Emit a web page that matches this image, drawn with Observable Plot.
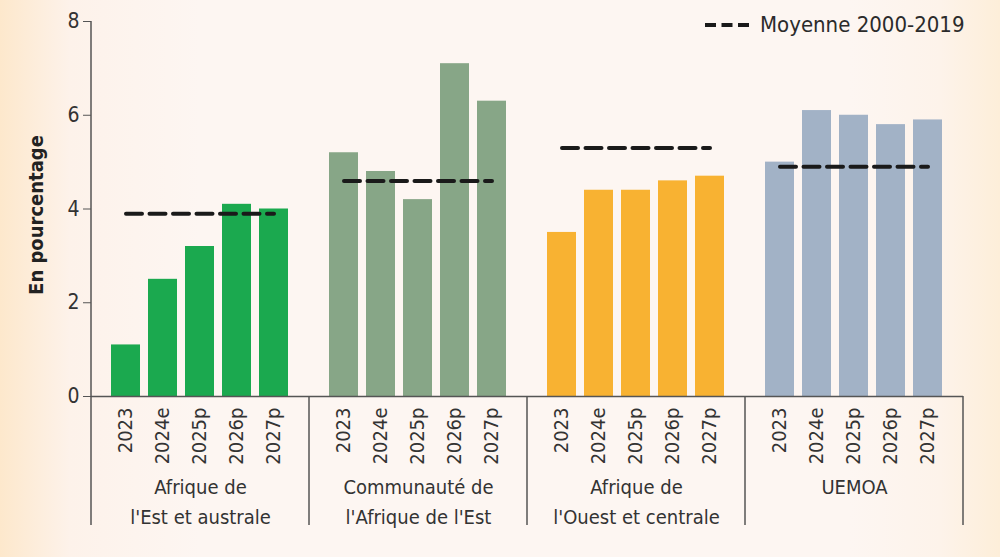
<!DOCTYPE html>
<html>
<head>
<meta charset="utf-8">
<script src="https://cdn.jsdelivr.net/npm/d3@7"></script>
<script src="https://cdn.jsdelivr.net/npm/@observablehq/plot@0.6"></script>
<style>
  html, body { margin: 0; padding: 0; }
  body {
    width: 1000px; height: 557px; overflow: hidden;
    background: linear-gradient(to right, #fde8cc 0%, #fdf2ea 7%, #fdf6f2 20%, #fdf6f2 85%, #fdf3ea 94%, #fdeed9 100%);
    font-family: "Liberation Sans Narrow", "DejaVu Sans Condensed", sans-serif;
    color: #333;
  }
  #wrap { position: relative; width: 1000px; height: 557px; }
  #legend {
    position: absolute; left: 704px; top: 11px;
    display: flex; align-items: center; gap: 10px;
    font-size: 22px; line-height: 28px; color: #2b2b2b;
  }
  #legend svg { display: block; }
  #chart svg { display: block; background: transparent; }
</style>
</head>
<body>
<div id="wrap">
  <div id="chart"></div>
  <div id="legend">
    <svg width="46" height="10"><line x1="1" y1="5" x2="45" y2="5" stroke="#1a1a1a" stroke-width="4" stroke-dasharray="11,5.5"/></svg>
    <span>Moyenne 2000-2019</span>
  </div>
</div>
<script>
// ---- data ----
const groups = ["EA", "EAC", "WCA", "UEMOA"];
const groupLabels = [
  "Afrique de\nl'Est et australe",
  "Communauté de\nl'Afrique de l'Est",
  "Afrique de\nl'Ouest et centrale",
  "UEMOA"
];
const years = ["2023", "2024e", "2025p", "2026p", "2027p"];
const valuesEA    = [1.1, 2.5, 3.2, 4.1, 4.0];
const valuesEAC   = [5.2, 4.8, 4.2, 7.1, 6.3];
const valuesWCA   = [3.5, 4.4, 4.4, 4.6, 4.7];
const valuesUEMOA = [5.0, 6.1, 6.0, 5.8, 5.9];
const averages    = [3.9, 4.6, 5.3, 4.9];
const groupColors = ["#1ba94f", "#87a687", "#f8b232", "#a2b2c6"];
const yTicks = [0, 2, 4, 6, 8];
const yLabel = "En pourcentage";

// ---- tables ----
const series = [valuesEA, valuesEAC, valuesWCA, valuesUEMOA];
const bars = groups.flatMap((g, i) => years.map((yr, j) => ({group: g, year: yr, value: series[i][j]})));
const means = groups.flatMap((g, i) => [
  {group: g, year: years[0], value: averages[i]},
  {group: g, year: years[years.length - 1], value: averages[i]}
]);
const labelRows = groups.map((g, i) => ({group: g, label: groupLabels[i]}));

const font = "'Liberation Sans Narrow', 'DejaVu Sans Condensed', sans-serif";

const plot = Plot.plot({
  width: 1000,
  height: 557,
  marginLeft: 90,
  marginRight: 36,
  marginTop: 21,
  marginBottom: 161,
  style: {fontFamily: font, color: "#333", background: "transparent", overflow: "visible"},
  fx: {domain: groups, padding: 0, axis: null},
  x: {domain: years, paddingInner: 0.21, paddingOuter: 0.48, axis: null},
  y: {domain: [0, 8], axis: null},
  color: {domain: groups, range: groupColors},
  marks: [
    Plot.barY(bars, {fx: "group", x: "year", y: "value", fill: "group"}),
    Plot.ruleY([0], {stroke: "#555", strokeWidth: 1.5}),
    Plot.lineY(means, {fx: "group", x: "year", y: "value", z: "group", stroke: "#1a1a1a", strokeWidth: 4, strokeDasharray: "16,7.5"}),
    Plot.axisY({ticks: yTicks, tickSize: 8, tickPadding: 4, fontSize: 21, label: null, stroke: "#555"}),
    Plot.axisX({tickRotate: -90, tickSize: 0, tickPadding: 11, fontSize: 20, label: null}),
    Plot.text(labelRows, {fx: "group", text: "label", frameAnchor: "bottom", lineAnchor: "top", dy: 76, fontSize: 20, lineHeight: 1.5, fill: "#333"}),
    Plot.text([groups[0]], {fx: d => d, text: () => yLabel, frameAnchor: "left", textAnchor: "middle", dx: -55, dy: 6, rotate: -90, fontSize: 20, fontWeight: "bold", fill: "#222"})
  ]
});

document.getElementById("chart").appendChild(plot);

// group dividers and left axis line, positioned through the plot's scales
const fx = plot.scale("fx");
const y = plot.scale("y");
const edges = groups.map(g => fx.apply(g)).concat([fx.apply(groups[groups.length - 1]) + fx.bandwidth]);
const y0 = y.apply(0);
const yBottom = y.apply(-2.75);
const svg = d3.select(plot);
const g = svg.append("g").attr("stroke", "#555").attr("stroke-width", 1.5);
g.append("line").attr("x1", edges[0]).attr("x2", edges[0]).attr("y1", y.apply(8)).attr("y2", yBottom);
edges.slice(1).forEach(x => {
  g.append("line").attr("x1", x).attr("x2", x).attr("y1", y0).attr("y2", yBottom);
});
</script>
</body>
</html>
